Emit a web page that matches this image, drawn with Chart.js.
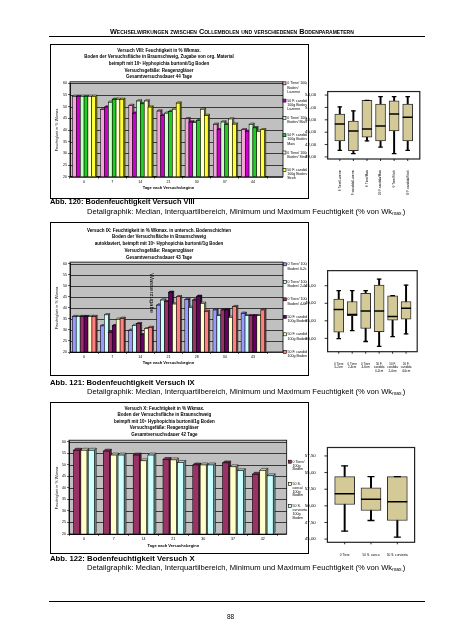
<!DOCTYPE html>
<html><head><meta charset="utf-8">
<script src="https://cdn.jsdelivr.net/npm/chart.js@4.4.1/dist/chart.umd.min.js"></script>
<style>
html,body{margin:0;padding:0;background:#fff}
body{width:452px;height:640px;position:relative;overflow:hidden;font-family:"Liberation Sans",Arial,sans-serif;color:#000}
.a{position:absolute;white-space:nowrap;line-height:1;will-change:transform}
.frame{position:absolute;border:1px solid #000;box-sizing:border-box}
.hl{position:absolute;height:0;border-top:1px solid #000}
.cw{position:absolute}
canvas{display:block}
sub{font-size:65%;vertical-align:-0.25em;line-height:0}
</style></head><body>
<div class="a" id="hdr" style="left:110px;top:28px;font-weight:bold;font-variant:small-caps;font-size:7px">Wechselwirkungen zwischen Collembolen und verschiedenen Bodenparametern</div>
<div class="hl" style="left:49px;top:36px;width:376px"></div>

<div class="frame" style="left:50px;top:44px;width:259px;height:155px"></div>
<div class="cw" style="left:51px;top:45px"><canvas id="c8" width="256" height="152"></canvas></div>
<div class="cw" style="left:300px;top:80px"><canvas id="b8" width="125" height="115"></canvas></div>
<div class="a cap1" id="cap8a" style="left:50px;top:197.5px;font-weight:bold;font-size:7px">Abb. 120: Bodenfeuchtigkeit Versuch VIII</div>
<div class="a cap2" id="cap8b" style="left:87px;top:207.5px;font-size:7px">Detailgraphik: Median, Interquartilbereich, Minimum und Maximum Feuchtigkeit (% von Wk<sub>max.</sub>)</div>

<div class="frame" style="left:50px;top:221.7px;width:259px;height:154px"></div>
<div class="cw" style="left:51px;top:222.7px"><canvas id="c9" width="256" height="151"></canvas></div>
<div class="cw" style="left:300px;top:260px"><canvas id="b9" width="125" height="115"></canvas></div>
<div class="a cap1" id="cap9a" style="left:50px;top:378.5px;font-weight:bold;font-size:7px">Abb. 121: Bodenfeuchtigkeit Versuch IX</div>
<div class="a cap2" id="cap9b" style="left:87px;top:388px;font-size:7px">Detailgraphik: Median, Interquartilbereich, Minimum und Maximum Feuchtigkeit (% von Wk<sub>max.</sub>)</div>

<div class="frame" style="left:50px;top:402px;width:259px;height:152px"></div>
<div class="cw" style="left:51px;top:403px"><canvas id="c10" width="256" height="149"></canvas></div>
<div class="cw" style="left:300px;top:436px"><canvas id="b10" width="125" height="122"></canvas></div>
<div class="a cap1" id="cap10a" style="left:50px;top:554.5px;font-weight:bold;font-size:7px">Abb. 122: Bodenfeuchtigkeit Versuch X</div>
<div class="a cap2" id="cap10b" style="left:87px;top:563.5px;font-size:7px">Detailgraphik: Median, Interquartilbereich, Minimum und Maximum Feuchtigkeit (% von Wk<sub>max.</sub>)</div>

<div class="hl" style="left:49px;top:601px;width:376px"></div>
<div class="a" style="left:227px;top:614px;font-size:6.5px">88</div>

<script>
// ===================== DATA =====================
// Versuch VIII
const daysVIII = ['0', '7', '14', '21', '30', '37', '44'];
const seriesVIII = [
  ['0 Tiere/ 100g', 'Boden/', 'Luzerne'],
  ['50 F. candida/', '100g Boden/', 'Luzerne'],
  ['0 Tiere/ 100g', 'Boden/ Mais'],
  ['50 F. candida/', '100g Boden/', 'Mais'],
  ['0 Tiere/ 100g', 'Boden/ Stroh'],
  ['50 F. candida/', '100g Boden/', 'Stroh']
];
const luzerne0VIII  = [54.4, 48.8, 50.5, 48.1, 44.8, 42.4, 40.1];
const luzerne50VIII = [54.4, 49.8, 47.2, 46.2, 43.4, 40.1, 39.4];
const mais0VIII     = [54.4, 51.9, 52.4, 47.2, 43.1, 43.4, 42.4];
const mais50VIII    = [54.4, 53.1, 51.2, 47.9, 44.1, 42.4, 40.9];
const stroh0VIII    = [54.4, 53.1, 52.4, 48.9, 48.9, 44.7, 39.4];
const stroh50VIII   = [54.4, 53.1, 49.8, 51.5, 46.2, 42.5, 40.1];

// Versuch IX
const daysIX = ['0', '7', '14', '21', '28', '34', '43'];
const seriesIX = [
  ['0 Tiere/ 100g', 'Boden/ 0-2cm'],
  ['0 Tiere/ 100g', 'Boden/ 2-4cm'],
  ['0 Tiere/ 100g', 'Boden/ 4-6cm'],
  ['50 F. candida/', '100g Boden/ 0-2cm'],
  ['50 F. candida/', '100g Boden/ 2-4cm'],
  ['50 F. candida/', '100g Boden/ 4-6cm']
];
const tiere0_02IX  = [36.0, 31.8, 29.8, 41.2, 43.7, 39.0, 37.5];
const tiere0_24IX  = [36.0, 36.8, 32.0, 43.5, 40.2, 36.4, 36.4];
const tiere0_46IX  = [36.0, 28.9, 32.8, 42.8, 43.5, 39.0, 36.4];
const cand50_02IX  = [36.0, 31.9, 27.8, 47.0, 45.2, 39.0, 36.4];
const cand50_24IX  = [36.0, 34.8, 30.5, 41.7, 42.0, 35.7, 36.4];
const cand50_46IX  = [36.0, 35.2, 31.1, 45.0, 38.4, 40.5, 39.0];
const noteIX = 'Wasserzugabe';

// Versuch X
const daysX = ['0', '7', '14', '21', '30', '37', '42'];
const seriesX = [
  ['0 Tiere/', '100g', 'Boden'],
  ['50 S.', 'coeca/', '100g', 'Boden'],
  ['50 S.', 'curviseta/', '100g', 'Boden']
];
const tiere0X    = [56.3, 55.9, 54.2, 52.3, 49.9, 50.8, 45.9];
const coeca50X   = [56.3, 54.2, 51.7, 52.1, 49.9, 49.1, 47.6];
const curvi50X   = [56.3, 54.2, 54.2, 51.0, 49.9, 47.4, 45.2];

// Box plots (Detailgraphik)
const boxCatsVIII = ['0 Tiere/Luzerne', '50 F. candida/Luzerne', '0 Tiere/Mais', '50 F. candida/Mais', '0 Tiere/Stroh', '50 F. candida/Stroh'];
const boxMinVIII = [40.6, 39.8, 42.9, 41.4, 39.8, 40.6];
const boxQ1VIII  = [42.9, 40.5, 43.8, 42.9, 45.3, 42.9];
const boxMedVIII = [47.0, 45.3, 45.8, 46.5, 49.4, 48.6];
const boxQ3VIII  = [49.4, 47.7, 52.7, 51.8, 52.6, 51.8];
const boxMaxVIII = [51.15, 50.15, 52.7, 53.6, 53.6, 53.6];

const boxCatsIX = [['0 Tiere', '0-2cm'], ['0 Tiere', '2-4cm'], ['0 Tiere', '4-6cm'], ['50 F.', 'candida', '0-2cm'], ['50 F.', 'candida', '2-4cm'], ['50 F.', 'candida', '4-6cm']];
const boxMinIX = [29.9, 32.2, 29.1, 27.7, 30.5, 31.3];
const boxQ1IX  = [31.8, 36.5, 32.8, 31.9, 35.2, 35.5];
const boxMedIX = [38.2, 36.8, 37.8, 37.8, 36.2, 38.6];
const boxQ3IX  = [41.2, 40.5, 42.8, 45.2, 42.1, 40.5];
const boxMaxIX = [43.6, 43.6, 43.6, 46.9, 42.2, 45.2];

const boxCatsX = ['0 Tiere', '50 S. coeca', '50 S. curviseta'];
const boxMinX = [46.2, 47.8, 45.3];
const boxQ1X  = [50.2, 49.3, 47.8];
const boxMedX = [51.8, 51.0, 50.6];
const boxQ3X  = [54.4, 52.7, 54.4];
const boxMaxX = [56.0, 54.4, 54.4];

// ===================== STYLE =====================
const FONT = '"Liberation Sans", Arial, Helvetica, sans-serif';
Chart.defaults.font.family = FONT;
Chart.defaults.color = '#000';
const colorsVIII = ['#f5a3d8', '#cc00cc', '#ccffcc', '#22cc22', '#ffffcc', '#ffff33'];
const colorsIX = ['#9999ff', '#ccffff', '#993366', '#660066', '#ffffcc', '#ff8080'];
const colorsX = ['#993366', '#ffffcc', '#ccffff'];
const boxFill = '#d4ca98';

function shade(hex, f) {
  const n = parseInt(hex.slice(1), 16);
  const r = Math.round(((n >> 16) & 255) * f), g = Math.round(((n >> 8) & 255) * f), b = Math.round((n & 255) * f);
  return 'rgb(' + r + ',' + g + ',' + b + ')';
}

// ===================== PLUGINS =====================
const wallPlugin = {
  id: 'wall',
  beforeDraw(chart, args, o) {
    const a = chart.chartArea, ctx = chart.ctx, ys = chart.scales.y;
    ctx.save();
    ctx.fillStyle = '#c0c0c0';
    const x0 = a.left, y0 = a.top - o.up, w = a.right - a.left + o.ext, h = a.bottom - y0;
    ctx.fillRect(x0, y0, w, h);
    ctx.strokeStyle = '#000';
    ctx.lineWidth = 0.7;
    ys.ticks.forEach(t => {
      const py = Math.round(ys.getPixelForValue(t.value)) + 0.5;
      ctx.beginPath(); ctx.moveTo(x0, py); ctx.lineTo(x0 + w, py); ctx.stroke();
    });
    ctx.lineWidth = 0.8;
    ctx.strokeRect(x0, y0, w, h);
    ctx.restore();
  }
};
const bar3d = {
  id: 'bar3d',
  afterDatasetsDraw(chart, args, o) {
    const d = o.d;
    if (!d) return;
    const ctx = chart.ctx, n = chart.data.labels.length, a = chart.chartArea;
    ctx.save();
    ctx.lineWidth = 0.5; ctx.strokeStyle = '#000';
    for (let j = 0; j < n; j++) {
      chart.data.datasets.forEach((ds, i) => {
        const b = chart.getDatasetMeta(i).data[j];
        const L = b.x - b.width / 2, R = b.x + b.width / 2, T = b.y, B = Math.min(b.base, a.bottom);
        const col = ds.backgroundColor;
        ctx.fillStyle = shade(col, 0.55);
        ctx.beginPath(); ctx.moveTo(R, T); ctx.lineTo(R + d, T - d); ctx.lineTo(R + d, B - d); ctx.lineTo(R, B); ctx.closePath(); ctx.fill(); ctx.stroke();
        ctx.fillStyle = shade(col, 0.82);
        ctx.beginPath(); ctx.moveTo(L, T); ctx.lineTo(L + d, T - d); ctx.lineTo(R + d, T - d); ctx.lineTo(R, T); ctx.closePath(); ctx.fill(); ctx.stroke();
        ctx.fillStyle = col;
        ctx.fillRect(L, T, R - L, B - T);
        ctx.strokeRect(L, T, R - L, B - T);
      });
    }
    ctx.restore();
  }
};
const sideLegend = {
  id: 'sideLegend',
  afterDraw(chart, args, o) {
    const ctx = chart.ctx;
    ctx.save();
    ctx.font = o.size + 'px ' + FONT;
    ctx.textBaseline = 'middle';
    chart.data.datasets.forEach((ds, i) => {
      const y = o.y0 + i * o.dy;
      ctx.fillStyle = ds.backgroundColor;
      ctx.fillRect(o.x, y - o.box / 2, o.box, o.box);
      ctx.strokeStyle = '#000'; ctx.lineWidth = 0.6;
      ctx.strokeRect(o.x, y - o.box / 2, o.box, o.box);
      ctx.fillStyle = '#000';
      ds.label.split('\n').forEach((line, k) => ctx.fillText(line, o.x + o.box + 1.2, y + k * o.lh));
    });
    ctx.restore();
  }
};
const notePlugin = {
  id: 'note',
  afterDatasetsDraw(chart, args, o) {
    if (!o.text) return;
    const xs = chart.scales.x, ys = chart.scales.y, ctx = chart.ctx;
    const cw = xs.getPixelForValue(1) - xs.getPixelForValue(0);
    const px = xs.getPixelForValue(o.index) - cw / 2 - 2.5;
    const py = ys.getPixelForValue(o.value);
    ctx.save();
    ctx.translate(px, py);
    ctx.rotate(Math.PI / 2);
    ctx.font = o.size + 'px ' + FONT;
    ctx.fillStyle = '#000';
    ctx.textBaseline = 'middle';
    ctx.fillText(o.text, 0, 0);
    ctx.restore();
  }
};
const boxFrame = {
  id: 'boxFrame',
  afterDraw(chart, args, o) {
    const a = chart.chartArea, ctx = chart.ctx, ys = chart.scales.y, xs = chart.scales.x;
    const fl = a.left - o.mx, fr = a.right + o.mx;
    ctx.save();
    ctx.strokeStyle = '#222';
    ctx.lineWidth = 1.2;
    ctx.strokeRect(fl, a.top, fr - fl, a.bottom - a.top);
    ctx.lineWidth = 0.8;
    ctx.strokeStyle = '#000';
    ys.ticks.forEach(t => {
      const py = ys.getPixelForValue(t.value);
      ctx.beginPath(); ctx.moveTo(fl - 3, py); ctx.lineTo(fl, py); ctx.stroke();
    });
    xs.ticks.forEach((t, i) => {
      const px = xs.getPixelForValue(i);
      ctx.beginPath(); ctx.moveTo(px, a.bottom); ctx.lineTo(px, a.bottom + 2); ctx.stroke();
    });
    ctx.restore();
  }
};

// ===================== BUILDERS =====================
function barChart(id, cats, vals, names, colors, c) {
  const datasets = vals.map((v, i) => ({
    label: names[i].join('\n'),
    data: v,
    backgroundColor: colors[i],
    borderColor: '#000',
    borderWidth: 0.6,
    barPercentage: c.barPct,
    categoryPercentage: c.catPct
  }));
  return new Chart(document.getElementById(id), {
    type: 'bar',
    data: { labels: cats, datasets },
    options: {
      responsive: false, animation: false, events: [],
      layout: { padding: { left: 0, right: c.padRight, top: 0, bottom: 0 } },
      plugins: {
        legend: { display: false },
        tooltip: { enabled: false },
        title: {
          display: true, text: c.title, color: '#000',
          font: { size: 4.5, weight: 'bold', lineHeight: c.titleLH + 'px' },
          padding: { top: c.titlePT, bottom: c.titlePB }
        },
        wall: { ext: c.wallExt, up: 1.5 },
        bar3d: { d: c.depth },
        sideLegend: c.legend,
        note: c.note || {}
      },
      scales: {
        x: {
          grid: { display: true, drawOnChartArea: false, tickLength: 2, color: '#000', lineWidth: 0.6 },
          border: { color: '#000', width: 0.8 },
          ticks: { font: { size: 3.6 }, color: '#000', padding: 1, maxRotation: 0, autoSkip: false },
          title: { display: true, text: 'Tage nach Versuchsbeginn', color: '#000', font: { size: 4, weight: 'bold', lineHeight: 1.2 }, padding: { top: 0, bottom: c.xTitlePB } },
          afterFit: s => { s.height = c.xH; }
        },
        y: {
          min: 20, max: 60,
          ticks: { stepSize: 5, font: { size: 3.6 }, color: '#000', padding: 1 },
          grid: { drawOnChartArea: false, tickLength: 2, color: '#000', lineWidth: 0.6 },
          border: { color: '#000', width: 0.8 },
          title: { display: true, text: 'Feuchtigkeit in % Wkmax', color: '#000', font: { size: 3.8, lineHeight: 1.2 }, padding: { top: c.yTitlePT, bottom: 0 } },
          afterFit: s => { s.width = c.yW; }
        }
      }
    },
    plugins: [wallPlugin, bar3d, sideLegend, notePlugin]
  });
}

function boxChart(id, cats, mins, q1s, meds, q3s, maxs, c) {
  return new Chart(document.getElementById(id), {
    type: 'bar',
    data: {
      labels: cats,
      datasets: [
        { type: 'line', data: meds, showLine: false, pointStyle: 'line', pointRadius: c.boxW / 2, pointBorderWidth: 1.5, pointBorderColor: '#000', order: 0 },
        { type: 'line', data: mins, showLine: false, pointStyle: 'line', pointRadius: c.capR, pointBorderWidth: 1.3, pointBorderColor: '#000', order: 0 },
        { type: 'line', data: maxs, showLine: false, pointStyle: 'line', pointRadius: c.capR, pointBorderWidth: 1.3, pointBorderColor: '#000', order: 0 },
        { type: 'bar', data: cats.map((_, i) => [q1s[i], q3s[i]]), backgroundColor: boxFill, borderColor: '#333', borderWidth: 1, borderSkipped: false, barThickness: c.boxW, grouped: false, order: 1 },
        { type: 'bar', data: cats.map((_, i) => [mins[i], maxs[i]]), backgroundColor: '#000', borderWidth: 0, barThickness: 1.3, grouped: false, order: 2 }
      ]
    },
    options: {
      responsive: false, animation: false, events: [],
      layout: { padding: { left: 0, right: c.padRight, top: c.padTop, bottom: 0 } },
      plugins: { legend: { display: false }, tooltip: { enabled: false }, boxFrame: { mx: c.mx } },
      scales: {
        x: {
          grid: { display: false },
          border: { display: false },
          ticks: { font: { size: c.xFont, lineHeight: 1.1 }, color: '#000', autoSkip: false, minRotation: c.rot, maxRotation: c.rot, padding: 3 },
          afterFit: s => { s.height = c.xH; }
        },
        y: {
          min: c.yMin, max: c.yMax,
          afterBuildTicks: s => { s.ticks = c.yTicks.map(v => ({ value: v })); },
          ticks: { callback: v => Number(v).toFixed(2).replace('.', ','), font: { size: 4.4 }, color: '#000', padding: c.mx + 3.6 },
          grid: { display: false },
          border: { display: false },
          afterFit: s => { s.width = c.yW; }
        }
      }
    },
    plugins: [boxFrame]
  });
}

// ===================== CHARTS =====================
barChart('c8', daysVIII,
  [luzerne0VIII, luzerne50VIII, mais0VIII, mais50VIII, stroh0VIII, stroh50VIII],
  seriesVIII, colorsVIII, {
    title: ['Versuch VIII: Feuchtigkeit in % Wkmax.', 'Boden der Versuchsfläche in Braunschweig, Zugabe von org. Material', 'beimpft mit 10⁵ Hyphopichia burtonii/1g Boden', 'Versuchsgefäße: Reagenzgläser', 'Gesamtversuchsdauer 44 Tage'],
    titleLH: 6.7, titlePT: 2, titlePB: 2.8,
    barPct: 1.0, catPct: 0.82, depth: 1.3,
    padRight: 40, wallExt: 16, yW: 19, yTitlePT: 3.3, xH: 20.3, xTitlePB: 6.9,
    legend: { x: 232, y0: 38.3, dy: 17.3, lh: 4.2, size: 3.6, box: 3 }
  });

barChart('c9', daysIX,
  [tiere0_02IX, tiere0_24IX, tiere0_46IX, cand50_02IX, cand50_24IX, cand50_46IX],
  seriesIX, colorsIX, {
    title: ['Versuch IX: Feuchtigkeit in % Wkmax. in untersch. Bodenschichten', 'Boden der Versuchsfläche in Braunschweig', 'autoklaviert, beimpft mit 10⁵ Hyphopichia burtonii/1g Boden', 'Versuchsgefäße: Reagenzgläser', 'Gesamtversuchsdauer 43 Tage'],
    titleLH: 6.8, titlePT: 3.9, titlePB: 2.7,
    barPct: 1.0, catPct: 0.84, depth: 1.3,
    padRight: 40, wallExt: 16, yW: 19, yTitlePT: 3.3, xH: 22, xTitlePB: 8.6,
    legend: { x: 232.3, y0: 41.3, dy: 17.5, lh: 4.2, size: 3.6, box: 3 },
    note: { text: noteIX, index: 3, value: 55.6, size: 6 }
  });

barChart('c10', daysX,
  [tiere0X, coeca50X, curvi50X],
  seriesX, colorsX, {
    title: ['Versuch X: Feuchtigkeit in % Wkmax.', 'Boden der Versuchsfläche in Braunschweig', 'beimpft mit 10⁵ Hyphopichia burtonii/1g Boden', 'Versuchsgefäße: Reagenzgläser', 'Gesamtversuchsdauer 42 Tage'],
    titleLH: 6.5, titlePT: 2.45, titlePB: 3.75,
    barPct: 0.82, catPct: 0.74, depth: 2,
    padRight: 29.3, wallExt: 9, yW: 18, yTitlePT: 3.3, xH: 18, xTitlePB: 3.9,
    legend: { x: 237.3, y0: 58.7, dy: 22.2, lh: 3.8, size: 3.6, box: 3 }
  });

boxChart('b8', boxCatsVIII, boxMinVIII, boxQ1VIII, boxMedVIII, boxQ3VIII, boxMaxVIII, {
  boxW: 10, capR: 2.3, mx: 5.3, yW: 33, padRight: 10.5, padTop: 8.3, xH: 36,
  yMin: 38.5, yMax: 54.85, yTicks: [39, 42, 45, 48, 51, 54], rot: 90, xFont: 3
});
boxChart('b9', boxCatsIX, boxMinIX, boxQ1IX, boxMedIX, boxQ3IX, boxMaxIX, {
  boxW: 10, capR: 2.3, mx: 4.4, yW: 32, padRight: 12.2, padTop: 7.7, xH: 23.3,
  yMin: 26.2, yMax: 49.3, yTicks: [30, 35, 40, 45], rot: 0, xFont: 3
});
boxChart('b10', boxCatsX, boxMinX, boxQ1X, boxMedX, boxQ3X, boxMaxX, {
  boxW: 20, capR: 3.5, mx: 4.1, yW: 31.5, padRight: 14.5, padTop: 8, xH: 15.7,
  yMin: 44.52, yMax: 58.77, yTicks: [45, 47.5, 50, 52.5, 55, 57.5], rot: 0, xFont: 3.2
});

// ===================== TEXT FITTING =====================
function fitW(id, w) {
  const el = document.getElementById(id);
  const r = el.getBoundingClientRect().width;
  const fs = parseFloat(getComputedStyle(el).fontSize);
  el.style.fontSize = (fs * w / r) + 'px';
}
fitW('hdr', 253);
['cap8a', 'cap9a', 'cap10a'].forEach(id => fitW(id, 145));
['cap8b', 'cap9b', 'cap10b'].forEach(id => fitW(id, 319));
</script>
</body></html>
